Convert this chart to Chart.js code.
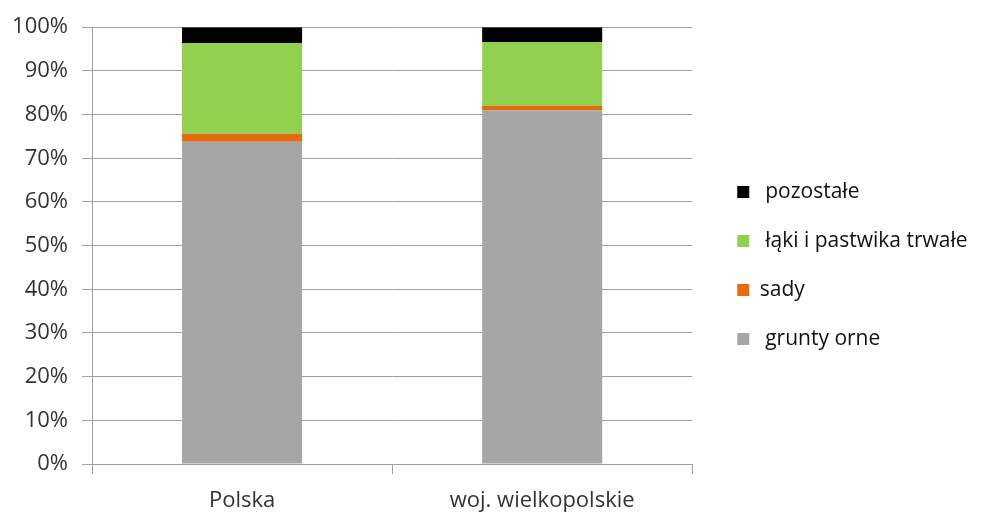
<!DOCTYPE html>
<html>
<head>
<meta charset="utf-8">
<script src="https://cdn.jsdelivr.net/npm/chart.js@4.4.1/dist/chart.umd.min.js"></script>
<style>
    html, body { margin: 0; padding: 0; background: #fff; }
    #wrap { width: 991px; height: 512px; }
</style>
</head>
<body>
<div id="wrap"><canvas id="landChart" width="991" height="512"></canvas></div>
<script>
const categories = ["Polska", "woj. wielkopolskie"];
const seriesNames = [" grunty orne", "sady", " łąki i pastwika trwałe", " pozostałe"];
const gruntyOrne = [73.8, 81.0];
const sady = [1.8, 1.0];
const laki = [20.7, 14.6];
const pozostale = [3.7, 3.4];
const yTicks = [0, 10, 20, 30, 40, 50, 60, 70, 80, 90, 100];

const COLORS = ["#a6a6a6", "#e46c0a", "#92d050", "#000000"];
const FONT = "Open Sans";
const GRID = "#a0a0a0";

// legend sits a bit further right / higher than chart.js puts it,
// and its box is widened so the long label is not clipped
const legendShift = {
    id: "legendShift",
    afterLayout(chart) {
        const lg = chart.legend;
        lg.left += 17;
        lg.right = chart.width;
        lg.width = lg.right - lg.left;
        lg.top -= 4;
        lg.bottom -= 4;
    },
};

function buildDatasets() {
    const values = [gruntyOrne, sady, laki, pozostale];
    return values.map((vals, i) => ({
        label: seriesNames[i],
        data: vals,
        backgroundColor: COLORS[i],
        borderWidth: 0,
        categoryPercentage: 0.8,
        barPercentage: 0.5,
    }));
}

function init() {
    const ctx = document.getElementById("landChart");
    new Chart(ctx, {
        type: "bar",
        data: {
            labels: categories,
            datasets: buildDatasets(),
        },
        plugins: [legendShift],
        options: {
            responsive: false,
            animation: false,
            layout: {
                padding: { top: 27, right: 68, left: 0, bottom: 0 },
            },
            scales: {
                x: {
                    stacked: true,
                    offset: true,
                    afterFit: (scale) => {
                        scale.height = 48;
                    },
                    border: { color: GRID, width: 1 },
                    grid: {
                        offset: true,
                        drawOnChartArea: false,
                        drawTicks: true,
                        tickLength: 10,
                        color: GRID,
                    },
                    ticks: {
                        color: "#333",
                        font: { family: FONT, size: 22 },
                        padding: 14,
                    },
                },
                y: {
                    stacked: true,
                    min: 0,
                    max: 100,
                    afterBuildTicks: (scale) => {
                        scale.ticks = yTicks.map((v) => ({ value: v }));
                    },
                    afterFit: (scale) => {
                        scale.width = 92;
                    },
                    border: { color: GRID, width: 1 },
                    grid: {
                        color: GRID,
                        drawTicks: true,
                        tickLength: 10,
                    },
                    ticks: {
                        color: "#333",
                        font: { family: FONT, size: 22 },
                        padding: 14,
                        callback: (v) => v + "%",
                    },
                },
            },
            plugins: {
                tooltip: { enabled: false },
                legend: {
                    position: "right",
                    reverse: true,
                    align: "center",
                    labels: {
                        boxWidth: 12,
                        boxHeight: 12,
                        padding: 28,
                        color: "#111",
                        font: { family: FONT, size: 21 },
                    },
                },
            },
        },
    });
}

init();
</script>
</body>
</html>
